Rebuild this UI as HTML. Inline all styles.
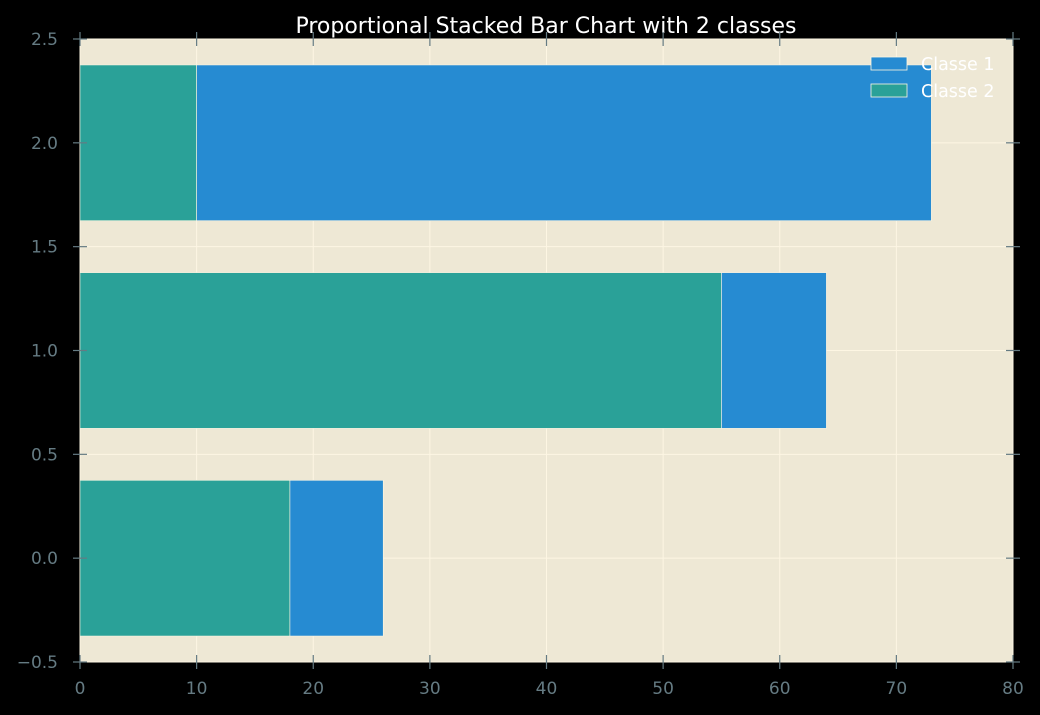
<!DOCTYPE html>
<html><head><meta charset="utf-8"><style>
html,body{margin:0;padding:0;background:#000;}
svg{display:block;font-family:"DejaVu Sans","Liberation Sans",sans-serif;}
</style></head><body>
<svg id="chart" width="1040" height="715">
<rect x="0" y="0" width="1040" height="715" fill="#000"/>
<text x="546" y="33" text-anchor="middle" fill="#fff" font-size="22">Proportional Stacked Bar Chart with 2 classes</text>
</svg>
<script>
const categories=[0,1,2];
const class2Values=[18,55,10];
const class1Values=[8,9,63];
const xTicks=[0,10,20,30,40,50,60,70,80];
const yTicks=[-0.5,0.0,0.5,1.0,1.5,2.0,2.5];
const yTickLabels=["\u22120.5","0.0","0.5","1.0","1.5","2.0","2.5"];
const L=80,R=1013,T=39,B=662;
const xs=v=>L+(v-0)/(80-0)*(R-L);
const ys=v=>B-(v+0.5)/3*(B-T);
const svg=document.getElementById('chart');
const NS='http://www.w3.org/2000/svg';
function mk(tag,attrs,parent){const e=document.createElementNS(NS,tag);for(const k in attrs)e.setAttribute(k,attrs[k]);(parent||svg).appendChild(e);return e;}
const bg=mk('rect',{x:L,y:T,width:R-L,height:B-T,fill:'#eee8d5'});


const grid=mk('g',{});


xTicks.forEach(t=>{const l=mk('line',{x1:xs(t),x2:xs(t),y1:T,y2:B,stroke:'#fdf6e3','stroke-width':1},grid);

});
yTicks.forEach(t=>{const l=mk('line',{x1:L,x2:R,y1:ys(t),y2:ys(t),stroke:'#fdf6e3','stroke-width':1},grid);

});
const bh=0.75;
categories.forEach((c,i)=>{
 const y0=ys(c+bh/2),h=ys(c-bh/2)-y0;
 const a=mk('rect',{x:xs(0),y:y0,width:xs(class2Values[i])-xs(0),height:h,fill:'#2aa198',stroke:'#fdf6e3','stroke-width':0.6});
 
 
 const b=mk('rect',{x:xs(class2Values[i]),y:y0,width:xs(class2Values[i]+class1Values[i])-xs(class2Values[i]),height:h,fill:'#268bd2',stroke:'#fdf6e3','stroke-width':0.6});
 
 
});
const ax=mk('g',{});


xTicks.forEach(t=>{
 [B,T].forEach(yy=>{const l=mk('line',{x1:xs(t),x2:xs(t),y1:yy-7,y2:yy+7,stroke:'#657b83','stroke-width':1.2},ax);
 
 });
 const tx=mk('text',{x:xs(t),y:B+32,'text-anchor':'middle',fill:'#657b83','font-size':17},ax);tx.textContent=t;
 
 
});
yTicks.forEach((t,i)=>{
 [L,R].forEach(xx=>{const l=mk('line',{x1:xx-7,x2:xx+7,y1:ys(t),y2:ys(t),stroke:'#657b83','stroke-width':1.2},ax);
 
 });
 const tx=mk('text',{x:L-22,y:ys(t)+6,'text-anchor':'end',fill:'#657b83','font-size':17},ax);tx.textContent=yTickLabels[i];
 
 
});
const lg=mk('g',{});


[['Classe 1','#268bd2',64],['Classe 2','#2aa198',91]].forEach(([n,c,y])=>{
 const r=mk('rect',{x:871,y:y-7,width:36,height:13,fill:c,stroke:'#fdf6e3','stroke-width':0.8},lg);
 
 
 const t=mk('text',{x:921,y:y+6,fill:'#fff','font-size':17.5},lg);t.textContent=n;
 
 
});
</script>
</body></html>
